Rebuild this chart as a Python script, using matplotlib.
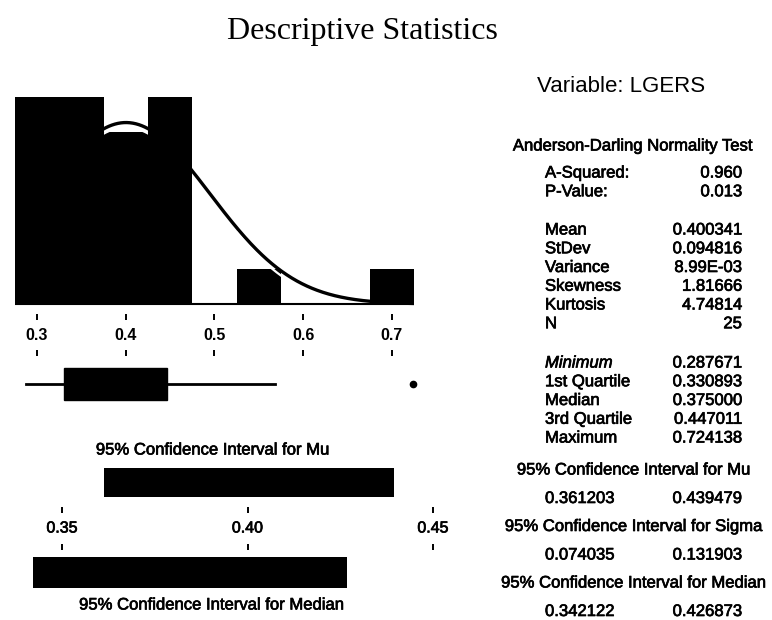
import numpy as np
import matplotlib
matplotlib.use('Agg')
import matplotlib.pyplot as plt
import matplotlib.patheffects as pe
from matplotlib.patches import Rectangle

plt.rcParams['font.family'] = ['Liberation Sans', 'DejaVu Sans']

W, H = 772, 620

# histogram of LGERS: bin centres and counts
bin_centers = [0.30, 0.35, 0.40, 0.45, 0.50, 0.55, 0.60, 0.65, 0.70]
bin_counts = [6, 6, 5, 6, 0, 1, 0, 0, 1]
bin_width = 0.05
hist_ticks = [0.3, 0.4, 0.5, 0.6, 0.7]
hist_ticklabels = ['0.3', '0.4', '0.5', '0.6', '0.7']

n_obs = 25
mean = 0.400341
stdev = 0.094816

# boxplot summary
box_q1 = 0.330893
box_med = 0.375000
box_q3 = 0.447011
box_whislo = 0.287671
box_whishi = 0.568
box_fliers = [0.724138]

# confidence interval bars
ci_mu = [0.361203, 0.439479]
ci_median = [0.342122, 0.426873]
ci_ticks = [0.35, 0.40, 0.45]
ci_ticklabels = ['0.35', '0.40', '0.45']

# right hand table
ad_labels = ['A-Squared:', 'P-Value:']
ad_values = ['0.960', '0.013']
moment_labels = ['Mean', 'StDev', 'Variance', 'Skewness', 'Kurtosis', 'N']
moment_values = ['0.400341', '0.094816', '8.99E-03', '1.81666', '4.74814', '25']
quant_labels = ['Minimum', '1st Quartile', 'Median', '3rd Quartile', 'Maximum']
quant_values = ['0.287671', '0.330893', '0.375000', '0.447011', '0.724138']
ci_titles = ['95% Confidence Interval for Mu',
             '95% Confidence Interval for Sigma',
             '95% Confidence Interval for Median']
ci_lows = ['0.361203', '0.074035', '0.342122']
ci_highs = ['0.439479', '0.131903', '0.426873']


fig = plt.figure(figsize=(W / 100, H / 100), dpi=100, facecolor='white')

# slightly heavier text, like the printed original
heavy = [pe.withStroke(linewidth=0.5, foreground='black')]


def px_axes(x0, y0, x1, y1):
    ax = fig.add_axes([x0 / W, 1 - y1 / H, (x1 - x0) / W, (y1 - y0) / H])
    ax.axis('off')
    return ax


def ftext(x, y, s, **kw):
    kw.setdefault('path_effects', heavy)
    fig.text(x / W, 1 - y / H, s, **kw)


def hx(v):
    return 37 + (v - 0.3) * 887


def cx(v):
    return 62 + (v - 0.35) * 3710


HX0, HX1 = 0.26, 0.76
CX0, CX1 = 0.335, 0.46

# --- histogram with normal curve
ax_h = px_axes(hx(HX0), 97, hx(HX1), 304)
ax_h.set_xlim(HX0, HX1)
ax_h.set_ylim(0, 6)
bars = ax_h.bar(bin_centers, bin_counts, width=bin_width, color='black', zorder=2)
lo_edge = bin_centers[0] - bin_width / 2
hi_edge = bin_centers[-1] + bin_width / 2
ax_h.plot([lo_edge, hi_edge], [0, 0], color='black', lw=1.5, clip_on=False,
          solid_capstyle='butt', zorder=2)

xs = np.linspace(lo_edge, hi_edge, 400)
ys = n_obs * bin_width * np.exp(-0.5 * ((xs - mean) / stdev) ** 2) / (stdev * np.sqrt(2 * np.pi))
curve, = ax_h.plot(xs, ys, color='black', lw=2.4, zorder=3, solid_capstyle='butt')
curve.set_clip_path(Rectangle((lo_edge, -1), hi_edge - lo_edge, 8,
                              transform=ax_h.transData))
for c, n in zip(bin_centers, bin_counts):
    inside = (xs >= c - bin_width / 2) & (xs <= c + bin_width / 2)
    if n > 0 and ys[inside].max() > n:
        wl, = ax_h.plot(xs, ys - 0.14, color='white', lw=1.6, zorder=4)
        wl.set_clip_path(Rectangle((c - bin_width / 2, 0), bin_width, 6,
                                   transform=ax_h.transData))

# --- histogram scale
ax_s = px_axes(hx(HX0), 308, hx(HX1), 362)
ax_s.set_xlim(HX0, HX1)
ax_s.set_ylim(54, 0)
ax_s.vlines(hist_ticks, 6, 12, color='black', lw=1.4)
ax_s.vlines(hist_ticks, 42, 48, color='black', lw=1.4)
for t, lab in zip(hist_ticks, hist_ticklabels):
    ax_s.text(t, 27, lab, ha='center', va='center', fontsize=11.5,
              fontweight='bold')

# --- boxplot
ax_b = px_axes(hx(HX0), 364, hx(HX1), 404)
ax_b.set_xlim(HX0, HX1)
ax_b.set_ylim(0.5, 1.5)
stats = [dict(med=box_med, q1=box_q1, q3=box_q3, whislo=box_whislo,
              whishi=box_whishi, fliers=box_fliers)]
ax_b.bxp(stats, positions=[1], widths=0.8, orientation='horizontal',
         patch_artist=True, showcaps=False,
         boxprops=dict(facecolor='black', edgecolor='black'),
         medianprops=dict(color='black'),
         whiskerprops=dict(color='black', lw=2),
         flierprops=dict(marker='o', markerfacecolor='black',
                         markeredgecolor='black', markersize=4.5))

# --- confidence interval bars
ax_c = px_axes(cx(CX0), 440, cx(CX1), 600)
ax_c.set_xlim(CX0, CX1)
ax_c.set_ylim(600, 440)
ax_c.barh(482.5, ci_mu[1] - ci_mu[0], left=ci_mu[0], height=29, color='black')
ax_c.barh(572.5, ci_median[1] - ci_median[0], left=ci_median[0], height=31, color='black')
ax_c.vlines(ci_ticks, 507, 513, color='black', lw=1.4)
ax_c.vlines(ci_ticks, 544, 550, color='black', lw=1.4)
for t, lab in zip(ci_ticks, ci_ticklabels):
    ax_c.text(t, 528, lab, ha='center', va='center', fontsize=11.5,
              path_effects=heavy)

ftext(213, 450, ci_titles[0], ha='center', va='center', fontsize=12)
ftext(212, 605, ci_titles[2], ha='center', va='center', fontsize=12)

# --- titles
ftext(362, 32, 'Descriptive Statistics', ha='center', va='center',
      fontsize=23, family='Liberation Serif', path_effects=[])
ftext(621, 87, 'Variable: LGERS', ha='center', va='center', fontsize=16,
      path_effects=[])

# --- right hand statistics
ftext(633, 146, 'Anderson-Darling Normality Test', ha='center', va='center', fontsize=12)
lab_x, val_x = 545, 742
rows = [(ad_labels, ad_values, 173), (moment_labels, moment_values, 230),
        (quant_labels, quant_values, 363)]
for labels, values, y0 in rows:
    for i, (lab, val) in enumerate(zip(labels, values)):
        y = y0 + i * 18.75
        style = 'italic' if lab == 'Minimum' else 'normal'
        ftext(lab_x, y, lab, ha='left', va='center', fontsize=12, style=style)
        ftext(val_x, y, val, ha='right', va='center', fontsize=12)

for i, (title, lo, hi) in enumerate(zip(ci_titles, ci_lows, ci_highs)):
    y = 470 + i * 56.5
    ftext(634, y, title, ha='center', va='center', fontsize=12)
    ftext(lab_x, y + 28.5, lo, ha='left', va='center', fontsize=12)
    ftext(val_x, y + 28.5, hi, ha='right', va='center', fontsize=12)

fig.savefig('out.png', dpi=100, facecolor='white')
